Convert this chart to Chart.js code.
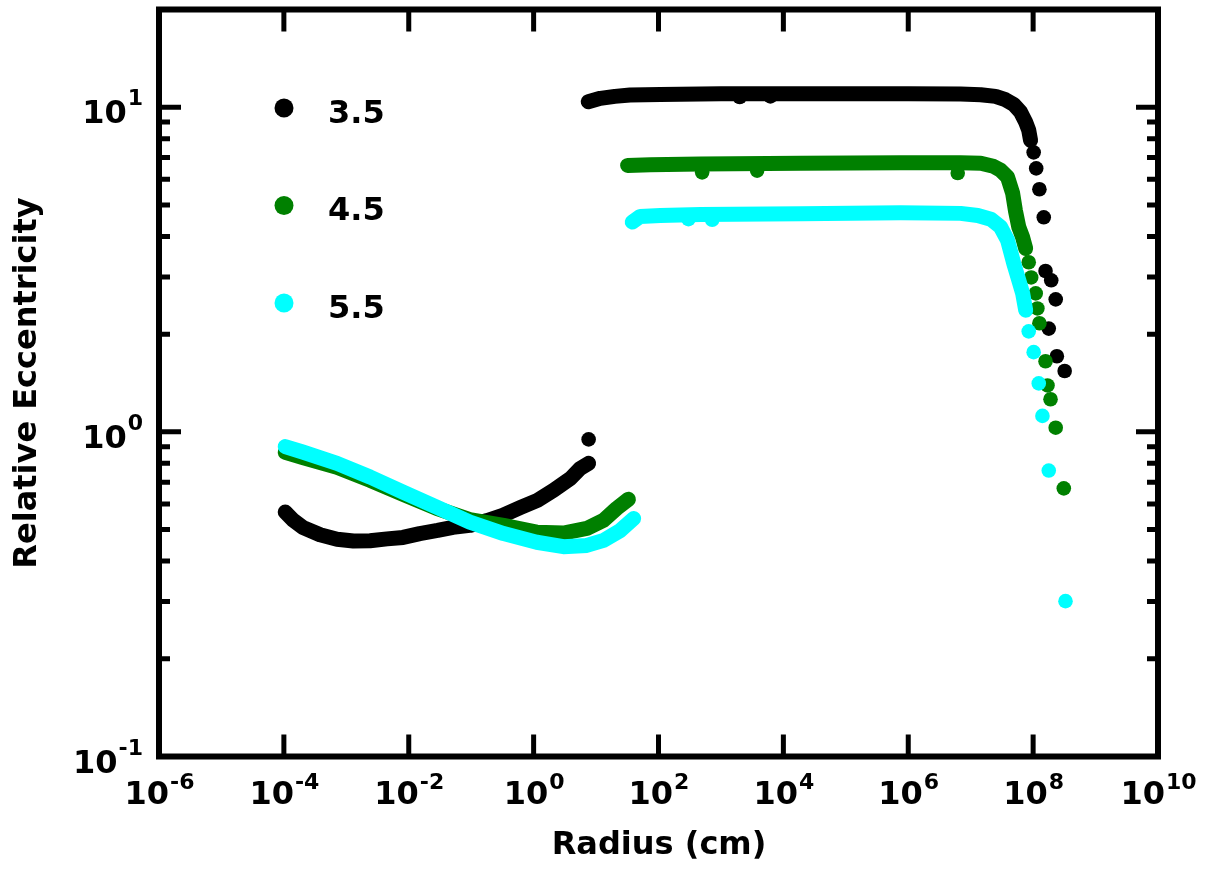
<!DOCTYPE html>
<html>
<head>
<meta charset="utf-8">
<script src="https://cdn.jsdelivr.net/npm/chart.js@4.4.1/dist/chart.umd.min.js"></script>
<style>
  html, body { margin: 0; padding: 0; background: #fff; }
  #wrap { width: 1209px; height: 869px; }
</style>
</head>
<body>
<div id="wrap"><canvas id="chart" width="1209" height="869"></canvas></div>
<script>
// series names (legend) and colours
const seriesLabels = ['3.5', '4.5', '5.5'];
const seriesColors = ['#000000', '#008000', '#00ffff'];

// 3.5 : inner branch, outer plateau, scattered points
const r35a = [1.05e-4, 1.4e-4, 2.0e-4, 3.8e-4, 7.1e-4, 1.3e-3, 2.4e-3, 4.5e-3, 8.1e-3, 1.5e-2, 2.9e-2, 5.1e-2, 9.5e-2, 0.18, 0.32, 0.62, 1.15, 2.1, 3.9, 5.6, 7.6];
const e35a = [0.566, 0.535, 0.508, 0.482, 0.467, 0.461, 0.462, 0.468, 0.473, 0.486, 0.497, 0.508, 0.515, 0.533, 0.553, 0.585, 0.615, 0.661, 0.719, 0.772, 0.800];
const r35b = [7.5, 11.7, 20, 35, 107, 1e3, 1e4, 1e5, 1e6, 6.9e6, 1.45e7, 2.5e7, 3.6e7, 4.9e7, 6.3e7, 7.6e7, 8.5e7, 9.1e7];
const e35b = [10.4, 10.65, 10.8, 10.9, 10.95, 11.0, 11.0, 11.0, 11.0, 10.98, 10.93, 10.8, 10.55, 10.2, 9.66, 9.0, 8.5, 7.91];
const r35c = [7.6, 2.0e3, 6.2e3, 1.02e8, 1.12e8, 1.26e8, 1.48e8, 1.58e8, 1.95e8, 2.3e8, 1.78e8, 2.4e8, 3.2e8];
const e35c = [0.948, 10.75, 10.8, 7.26, 6.48, 5.59, 4.58, 3.13, 2.93, 2.56, 2.08, 1.71, 1.54];

// 4.5
const r45a = [1.05e-4, 2.0e-4, 7.1e-4, 2.4e-3, 8.1e-3, 2.8e-2, 9.5e-2, 0.33, 1.12, 3.0, 7.1, 13.2, 21.4, 33];
const e45a = [0.865, 0.834, 0.778, 0.709, 0.642, 0.581, 0.537, 0.515, 0.491, 0.488, 0.504, 0.534, 0.581, 0.620];
const r45b = [32, 74, 470, 1.9e4, 7.6e5, 6.9e6, 1.45e7, 2.3e7, 3.0e7, 3.9e7, 4.7e7, 5.2e7, 5.9e7, 6.8e7, 7.6e7];
const e45b = [6.62, 6.65, 6.68, 6.72, 6.74, 6.74, 6.72, 6.58, 6.40, 6.09, 5.43, 4.81, 4.27, 3.97, 3.67];
const r45c = [500, 3.8e3, 6.2e6, 8.5e7, 9.3e7, 1.1e8, 1.17e8, 1.26e8, 1.58e8, 1.7e8, 1.9e8, 2.3e8, 3.1e8];
const e45c = [6.3, 6.38, 6.27, 3.33, 2.99, 2.67, 2.40, 2.16, 1.65, 1.39, 1.26, 1.03, 0.670];

// 5.5
const r55a = [1.05e-4, 2.0e-4, 7.1e-4, 2.4e-3, 8.1e-3, 2.8e-2, 9.5e-2, 0.33, 1.12, 3.0, 7.1, 13.2, 24.5, 40];
const e55a = [0.901, 0.867, 0.800, 0.726, 0.652, 0.586, 0.527, 0.486, 0.457, 0.443, 0.447, 0.463, 0.497, 0.541];
const r55b = [38, 51, 107, 470, 1.9e4, 7.6e5, 6.9e6, 1.3e7, 2.1e7, 3.0e7, 3.9e7, 4.9e7, 5.9e7, 6.8e7, 7.6e7];
const e55b = [4.43, 4.61, 4.64, 4.67, 4.70, 4.73, 4.71, 4.64, 4.52, 4.28, 3.89, 3.30, 2.93, 2.67, 2.37];
const r55c = [302, 724, 8.5e7, 1.02e8, 1.23e8, 1.41e8, 1.78e8, 3.3e8];
const e55c = [4.52, 4.5, 2.04, 1.76, 1.41, 1.12, 0.760, 0.301];

// axis ticks (powers of ten)
const xTickExp = [-6, -4, -2, 0, 2, 4, 6, 8, 10];
const yTickExp = [-1, 0, 1];

const FONT = '"DejaVu Sans", sans-serif';

function pts(rs, es) {
  return rs.map((r, i) => ({ x: r, y: es[i] }));
}

function band(rs, es, color, order) {
  return {
    data: pts(rs, es), showLine: true, borderColor: color, backgroundColor: color,
    borderWidth: 15, borderCapStyle: 'round', borderJoinStyle: 'round',
    pointRadius: 0, tension: 0, order: order
  };
}

function dots(rs, es, color, order) {
  return {
    data: pts(rs, es), showLine: false, backgroundColor: color, borderColor: color,
    pointRadius: 7.3, pointBorderWidth: 0, order: order
  };
}

const datasets = [
  band(r35a, e35a, seriesColors[0], 3),
  band(r35b, e35b, seriesColors[0], 3),
  dots(r35c, e35c, seriesColors[0], 3),
  band(r45a, e45a, seriesColors[1], 2),
  band(r45b, e45b, seriesColors[1], 2),
  dots(r45c, e45c, seriesColors[1], 2),
  band(r55a, e55a, seriesColors[2], 1),
  band(r55b, e55b, seriesColors[2], 1),
  dots(r55c, e55c, seriesColors[2], 1)
];

// frame, inward ticks, tick labels with superscripts, titles, legend
const framePlugin = {
  id: 'frame',
  afterDraw(chart) {
    const { ctx, chartArea: a, scales: { x, y } } = chart;
    ctx.save();
    ctx.strokeStyle = '#000';
    ctx.fillStyle = '#000';

    // ticks
    ctx.lineWidth = 5;
    ctx.lineCap = 'butt';
    ctx.beginPath();
    xTickExp.forEach(e => {
      const px = x.getPixelForValue(Math.pow(10, e));
      ctx.moveTo(px, a.bottom); ctx.lineTo(px, a.bottom - 22);
      ctx.moveTo(px, a.top); ctx.lineTo(px, a.top + 22);
    });
    for (let d = -1; d <= 1; d++) {
      for (let m = 1; m <= 9; m++) {
        const v = m * Math.pow(10, d);
        if (v > y.max) continue;
        const py = y.getPixelForValue(v);
        const len = m === 1 ? 22 : 11;
        ctx.moveTo(a.left, py); ctx.lineTo(a.left + len, py);
        ctx.moveTo(a.right, py); ctx.lineTo(a.right - len, py);
      }
    }
    ctx.stroke();

    // frame
    ctx.lineWidth = 6;
    ctx.strokeRect(a.left, a.top, a.right - a.left, a.bottom - a.top);

    const baseFont = 'bold 32px ' + FONT;
    const supFont = 'bold 22px ' + FONT;
    ctx.textBaseline = 'alphabetic';

    // x tick labels
    xTickExp.forEach(e => {
      const px = x.getPixelForValue(Math.pow(10, e));
      const sup = String(e);
      ctx.font = baseFont;
      const wb = ctx.measureText('10').width;
      ctx.font = supFont;
      const ws = ctx.measureText(sup).width;
      const start = px - (wb + ws) / 2;
      ctx.textAlign = 'left';
      ctx.font = baseFont;
      ctx.fillText('10', start, a.bottom + 47);
      ctx.font = supFont;
      ctx.fillText(sup, start + wb + 1, a.bottom + 32);
    });

    // y tick labels
    yTickExp.forEach(e => {
      const py = y.getPixelForValue(Math.pow(10, e));
      const sup = String(e);
      ctx.font = supFont;
      const ws = ctx.measureText(sup).width;
      ctx.textAlign = 'right';
      ctx.fillText(sup, a.left - 16, py - 2);
      ctx.font = baseFont;
      ctx.fillText('10', a.left - 17 - ws, py + 16);
    });

    // axis titles
    ctx.font = 'bold 32px ' + FONT;
    ctx.textAlign = 'center';
    ctx.textBaseline = 'middle';
    ctx.fillText('Radius (cm)', 659, 846);
    ctx.save();
    ctx.translate(28, 383);
    ctx.rotate(-Math.PI / 2);
    ctx.fillText('Relative Eccentricity', 0, 0);
    ctx.restore();

    // legend
    ctx.textAlign = 'left';
    ctx.textBaseline = 'alphabetic';
    seriesLabels.forEach((lab, i) => {
      const cy = 108 + i * 97.5;
      ctx.fillStyle = seriesColors[i];
      ctx.beginPath();
      ctx.arc(284, cy, 9.5, 0, Math.PI * 2);
      ctx.fill();
      ctx.fillStyle = '#000';
      ctx.font = 'bold 32px ' + FONT;
      ctx.fillText(lab, 328, cy + 14.5);
    });
    ctx.restore();
  }
};

const ctx = document.getElementById('chart').getContext('2d');
new Chart(ctx, {
  type: 'scatter',
  data: { datasets: datasets },
  options: {
    responsive: false,
    animation: false,
    layout: { padding: { left: 159, right: 51, top: 9.5, bottom: 112.5 } },
    plugins: { legend: { display: false }, tooltip: { enabled: false } },
    scales: {
      x: { type: 'logarithmic', min: 1e-6, max: 1e10, display: false },
      y: { type: 'logarithmic', min: 0.1, max: 20, display: false }
    }
  },
  plugins: [framePlugin]
});
</script>
</body>
</html>
